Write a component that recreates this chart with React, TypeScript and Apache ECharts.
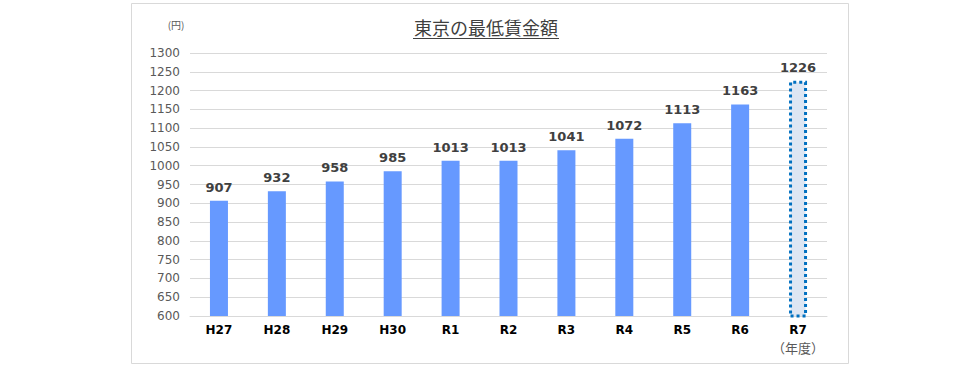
import React, { useEffect, useRef } from "react";
import * as echarts from "echarts";

const categories = ["H27", "H28", "H29", "H30", "R1", "R2", "R3", "R4", "R5", "R6", "R7"];
const wages = [907, 932, 958, 985, 1013, 1013, 1041, 1072, 1113, 1163, 1226];
const highlightIndex = 10;
const titleText = "東京の最低賃金額";
const yUnit = "(円)";
const xUnit = "（年度）";

export default function App() {
  const ref = useRef<HTMLDivElement>(null);
  useEffect(() => {
    if (!ref.current) return;
    const chart = echarts.init(ref.current, undefined, { renderer: "svg" });
    const font = "'Noto Sans CJK JP', 'DejaVu Sans', sans-serif";
    chart.setOption({
      animation: false,
      backgroundColor: "#ffffff",
      grid: { left: 190, right: 153, top: 53, bottom: 50, containLabel: false },
      xAxis: {
        type: "category",
        data: categories,
        axisLine: { show: true, lineStyle: { color: "#d9d9d9" } },
        axisTick: { show: false },
        axisLabel: { color: "#000", fontWeight: "bold", fontSize: 12, fontFamily: "'DejaVu Sans', sans-serif", margin: 8 },
      },
      yAxis: {
        type: "value",
        min: 600,
        max: 1300,
        interval: 50,
        axisLine: { show: false },
        axisTick: { show: false },
        splitLine: { lineStyle: { color: "#d9d9d9" } },
        axisLabel: {
          color: "#595959",
          fontSize: 12,
          fontFamily: "'DejaVu Sans', sans-serif",
          margin: 10,
          formatter: (v: number) => String(v),
        },
      },
      series: [
        {
          type: "bar",
          barWidth: 18,
          data: wages.map((v, i) =>
            i === highlightIndex
              ? {
                  value: v,
                  itemStyle: {
                    color: "#dde6f3",
                    borderColor: "#0070C0",
                    borderWidth: 3,
                    borderType: [3, 3],
                  },
                }
              : { value: v, itemStyle: { color: "#6699FF" } }
          ),
          label: {
            show: true,
            position: "top",
            distance: 7,
            color: "#404040",
            fontWeight: "bold",
            fontSize: 13,
            fontFamily: "'DejaVu Sans', sans-serif",
          },
        },
      ],
      graphic: [
        {
          type: "rect",
          shape: { x: 131.5, y: 3.5, width: 717, height: 360 },
          style: { fill: "none", stroke: "#d9d9d9", lineWidth: 1 },
          silent: true,
          z: -1,
        },
        {
          type: "text",
          x: 486,
          y: 27,
          style: {
            text: titleText,
            fill: "#404040",
            font: `18px ${font}`,
            textAlign: "center",
            textVerticalAlign: "middle",
          },
        },
        {
          type: "line",
          shape: { x1: 413, y1: 38.5, x2: 559, y2: 38.5 },
          style: { stroke: "#404040", lineWidth: 1 },
        },
        {
          type: "text",
          x: 176,
          y: 24,
          style: {
            text: yUnit,
            fill: "#595959",
            font: `10px ${font}`,
            textAlign: "center",
            textVerticalAlign: "middle",
          },
        },
        {
          type: "text",
          x: 798,
          y: 347,
          style: {
            text: xUnit,
            fill: "#595959",
            font: `13px ${font}`,
            textAlign: "center",
            textVerticalAlign: "middle",
          },
        },
      ],
    });
    return () => chart.dispose();
  }, []);
  return (
    <div
      ref={ref}
      style={{ position: "fixed", left: 0, top: 0, width: 980, height: 366 }}
    />
  );
}
